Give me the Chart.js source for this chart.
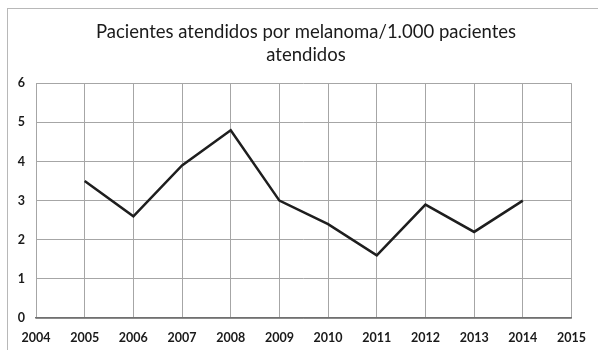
<!DOCTYPE html>
<html lang="es">
<head>
  <meta charset="UTF-8" />
  <title>Pacientes atendidos por melanoma</title>
  <script src="https://cdn.jsdelivr.net/npm/chart.js"></script>
  <style>
    body {
      margin: 0;
      padding: 0;
      background-color: #fff;
      font-family: 'Lato', sans-serif;
    }

    .chart-box {
      position: relative;
      width: 598px;
      height: 350px;
      overflow: hidden;
    }

    /* frame of the original picture, only left and top edges show */
    .frame {
      position: absolute;
      left: 7px;
      top: 8px;
      width: 700px;
      height: 500px;
      border-left: 1px solid #b8b8b8;
      border-top: 1px solid #b8b8b8;
      pointer-events: none;
    }
  </style>
</head>
<body>

  <div class="chart-box">
    <div class="frame"></div>
    <canvas id="melanomaChart"></canvas>
  </div>

  <script>
    const years = [2005, 2006, 2007, 2008, 2009, 2010, 2011, 2012, 2013, 2014];
    const rates = [3.5, 2.6, 3.9, 4.8, 3.0, 2.4, 1.6, 2.9, 2.2, 3.0];
    const titleLines = ['Pacientes atendidos por melanoma/1.000 pacientes', 'atendidos'];
    const xMin = 2004;
    const xMax = 2015;
    const yMin = 0;
    const yMax = 6;

    const points = years.map((yr, i) => ({ x: yr, y: rates[i] }));

    const ctx = document.getElementById('melanomaChart').getContext('2d');
    const melanomaChart = new Chart(ctx, {
      type: 'line',
      data: {
        datasets: [{
          label: 'Pacientes/1.000',
          data: points,
          borderColor: '#1e1e1e',
          borderWidth: 2.5,
          pointRadius: 0,
          fill: false,
          tension: 0
        }]
      },
      options: {
        responsive: true,
        maintainAspectRatio: false,
        animation: false,
        layout: {
          padding: { left: 14, right: 0, top: 8, bottom: 0 }
        },
        scales: {
          x: {
            type: 'linear',
            min: xMin,
            max: xMax,
            afterFit: (scale) => { scale.height = 32; },
            ticks: {
              stepSize: 1,
              padding: 12,
              color: '#1a1a1a',
              font: { family: 'Lato', size: 12.5, weight: 'bold' },
              maxRotation: 0,
              callback: (v) => String(v)
            },
            grid: {
              color: '#a6a6a6',
              drawTicks: false
            },
            border: {
              color: '#707070',
              width: 1.5
            }
          },
          y: {
            min: yMin,
            max: yMax,
            afterFit: (scale) => { scale.width = 22; },
            ticks: {
              stepSize: 1,
              padding: 11,
              color: '#1a1a1a',
              font: { family: 'Lato', size: 12.5, weight: 'bold' }
            },
            grid: {
              color: '#a6a6a6',
              drawTicks: false
            },
            border: {
              display: false
            }
          },
          // empty right axis, just keeps the room on the right
          yRight: {
            position: 'right',
            min: yMin,
            max: yMax,
            afterFit: (scale) => { scale.width = 23; },
            ticks: { display: false },
            grid: { display: false },
            border: { display: false }
          }
        },
        plugins: {
          legend: { display: false },
          tooltip: { enabled: false },
          title: {
            display: true,
            text: titleLines,
            color: '#1a1a1a',
            font: { family: 'Lato', size: 18.5, weight: 'normal', lineHeight: 1.25 },
            padding: { top: 12, bottom: 17 }
          }
        }
      }
    });
  </script>

</body>
</html>
